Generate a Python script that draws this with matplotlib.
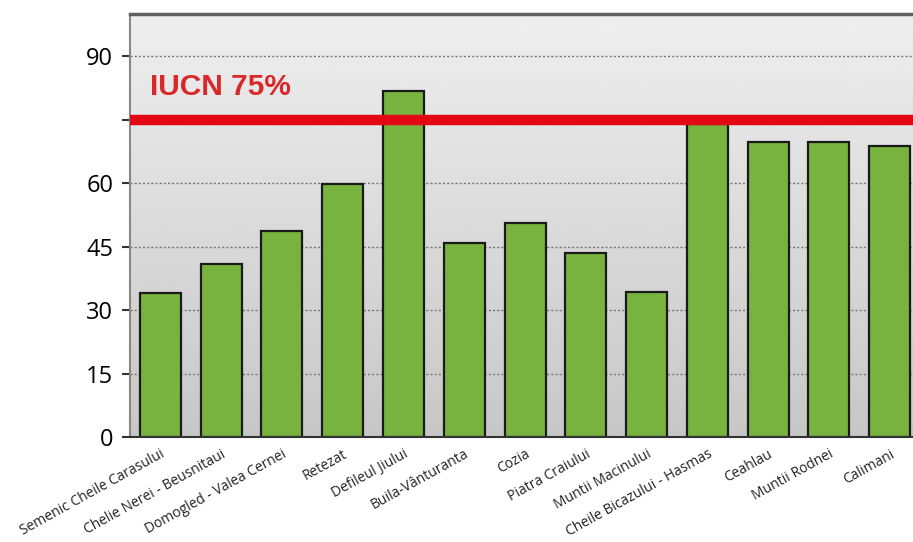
import matplotlib.pyplot as plt
import numpy as np

# data
parks = [
    "Semenic Cheile Carasului",
    "Chelie Nerei - Beusnitaui",
    "Domogled - Valea Cernei",
    "Retezat",
    "Defileul Jiului",
    "Buila-Vânturanta",
    "Cozia",
    "Piatra Craiului",
    "Muntii Macinului",
    "Cheile Bicazului - Hasmas",
    "Ceahlau",
    "Muntii Rodnei",
    "Calimani",
]
values = [34.0, 40.9, 48.7, 59.7, 81.8, 45.8, 50.7, 43.5, 34.4, 74.0, 69.7, 69.7, 68.8]
yticks = [0, 15, 30, 45, 60, 75, 90]
ytick_labels = ["0", "15", "30", "45", "60", "", "90"]
iucn_level = 75

fig = plt.figure(figsize=(9.13, 5.42), dpi=100)
ax = fig.add_axes([0.1424, 0.1937, 0.8653, 0.7804])

x = np.arange(len(parks))
ax.set_xlim(-0.5, len(parks) - 0.5)
ax.set_ylim(0, 100)

# gray gradient background
grad = np.linspace(0.78, 0.935, 256).reshape(-1, 1)
ax.imshow(grad, cmap="gray", vmin=0, vmax=1, aspect="auto", origin="lower",
          extent=[-0.5, len(parks) - 0.5, 0, 100], zorder=0)

for t in [15, 30, 45, 60, 90]:
    ax.axhline(t, color="#777777", lw=1.0, ls=(0, (1.5, 1.5)), zorder=1)

ax.bar(x, values, width=0.675, color="#78b33f", edgecolor="#1a1a1a",
       linewidth=1.6, zorder=2)

ax.axhline(iucn_level, color="#e30613", lw=7.5, zorder=3)
ax.text(-0.17, 80.8, "IUCN 75%", color="#d8282a", fontsize=21.5,
        fontweight="bold", family="Liberation Sans", zorder=4)

ax.set_yticks(yticks)
ax.set_yticklabels(ytick_labels, family="Open Sans", fontsize=17)
ax.tick_params(axis="y", length=6, width=1.5, color="#333333", pad=6)
ax.set_xticks(x)
ax.set_xticklabels(parks, rotation=29, ha="right", rotation_mode="anchor",
                   family="Open Sans", fontsize=10, color="#222222")
ax.tick_params(axis="x", length=0, pad=7)

ax.spines["top"].set_color("#606060")
ax.spines["top"].set_linewidth(2.5)
ax.spines["left"].set_color("#888888")
ax.spines["left"].set_linewidth(1.5)
ax.spines["bottom"].set_color("#333333")
ax.spines["bottom"].set_linewidth(1.5)
ax.spines["right"].set_visible(False)

fig.savefig("out.png", dpi=100)
